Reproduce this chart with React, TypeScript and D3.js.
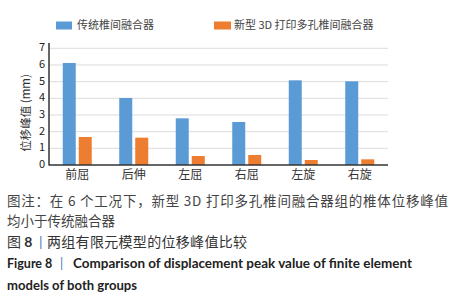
import React from "react";
import * as d3 from "d3";

const categories = ["前屈", "后伸", "左屈", "右屈", "左旋", "右旋"];
const traditional = [6.12, 4.02, 2.8, 2.58, 5.08, 5.02];
const printed = [1.68, 1.64, 0.54, 0.6, 0.3, 0.34];
const yTicks = [0, 1, 2, 3, 4, 5, 6, 7];
const seriesNames = ["传统椎间融合器", "新型 3D 打印多孔椎间融合器"];
const colors = ["#5b9bd5", "#ed7d31"];
const captionLines = [
  "图注：在 6 个工况下，新型 3D 打印多孔椎间融合器组的椎体位移峰值",
  "均小于传统融合器",
];
const figTitleCn = ["图 ", "8", "|", "两组有限元模型的位移峰值比较"];
const figTitleEn = [
  "Figure 8",
  "|",
  "Comparison of displacement peak value of finite element",
  "models of both groups",
];

export default function App() {
  const left = 49;
  const right = 388;
  const y = d3.scaleLinear().domain([0, 7]).range([165, 48.3]);
  const x = d3.scaleBand<string>().domain(categories).range([left, right]);
  const barW = 13;
  const cjk = "'Noto Sans CJK SC', 'Noto Sans', sans-serif";
  const latin = "Lato, 'Open Sans', sans-serif";
  const accent = "#3a78bd";
  return (
    <svg
      width={454}
      height={299}
      style={{ position: "absolute", left: 0, top: 0, background: "#fff" }}
      fontFamily={cjk}
    >
      {/* legend */}
      <rect x={56} y={21.5} width={16} height={8} fill={colors[0]} />
      <text x={77} y={25.7} dominantBaseline="middle" fontSize={11} fill="#444">
        {seriesNames[0]}
      </text>
      <rect x={214} y={21.5} width={17} height={8} fill={colors[1]} />
      <text x={234} y={25.7} dominantBaseline="middle" fontSize={11} fill="#444">
        {seriesNames[1]}
      </text>

      {/* gridlines */}
      {yTicks.slice(1).map((t) => (
        <line key={t} x1={left} x2={right} y1={y(t)} y2={y(t)} stroke="#dcdcdc" strokeWidth={1} />
      ))}

      {/* bars */}
      {categories.map((c, i) => {
        const cx = (x(c) as number) + x.bandwidth() / 2;
        return (
          <g key={c}>
            <rect x={cx - 14.5} y={y(traditional[i])} width={barW} height={y(0) - y(traditional[i])} fill={colors[0]} />
            <rect x={cx + 1.5} y={y(printed[i])} width={barW} height={y(0) - y(printed[i])} fill={colors[1]} />
            <text x={cx} y={176} textAnchor="middle" dominantBaseline="middle" fontSize={12} fill="#333">
              {c}
            </text>
          </g>
        );
      })}

      {/* axes */}
      <line x1={left} x2={left} y1={43} y2={165.5} stroke="#333" strokeWidth={1.5} />
      <line x1={left} x2={right} y1={165} y2={165} stroke="#333" strokeWidth={1.5} />
      {yTicks.map((t) => (
        <text key={t} x={42} y={y(t)} textAnchor="middle" dominantBaseline="middle" fontSize={11} fill="#222">
          {t}
        </text>
      ))}
      <text
        transform="translate(27,113) rotate(-90)"
        textAnchor="middle"
        dominantBaseline="middle"
        fontSize={11.5}
        fill="#333"
      >
        位移峰值 (mm)
      </text>

      {/* caption */}
      <text x={7} y={202} dominantBaseline="middle" fontSize={13.5} fill="#444" textLength={441} lengthAdjust="spacing">
        {captionLines[0]}
      </text>
      <text x={7} y={222} dominantBaseline="middle" fontSize={13.5} fill="#444">
        {captionLines[1]}
      </text>
      <text x={7} y={243} dominantBaseline="middle" fontSize={14} fill="#333">
        <tspan>{figTitleCn[0]}</tspan>
        <tspan fontWeight="bold" fontFamily={latin}>{figTitleCn[1]}</tspan>
        <tspan x={39} fill={accent} fontFamily={latin}>{figTitleCn[2]}</tspan>
        <tspan x={47} textLength={200} lengthAdjust="spacing">{figTitleCn[3]}</tspan>
      </text>
      <text x={7} y={265} dominantBaseline="middle" fontSize={12.5} fontWeight="bold" fill="#222" fontFamily={latin}>
        <tspan>{figTitleEn[0]}</tspan>
        <tspan x={60} fill={accent} fontWeight="normal">{figTitleEn[1]}</tspan>
        <tspan x={73} textLength={339} lengthAdjust="spacingAndGlyphs">{figTitleEn[2]}</tspan>
      </text>
      <text x={7} y={286.5} dominantBaseline="middle" fontSize={12.5} fontWeight="bold" fill="#222" fontFamily={latin} textLength={130} lengthAdjust="spacingAndGlyphs">
        {figTitleEn[3]}
      </text>
    </svg>
  );
}
